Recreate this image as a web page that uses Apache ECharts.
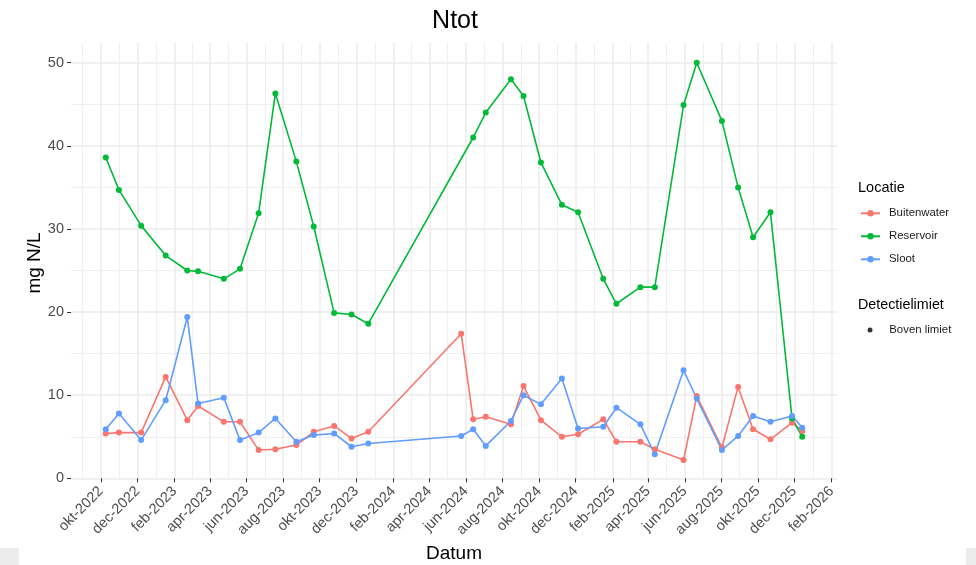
<!DOCTYPE html>
<html><head><meta charset="utf-8">
<script src="https://cdn.jsdelivr.net/npm/echarts@6/dist/echarts.min.js"></script>
<style>html,body{margin:0;padding:0;background:#fff}#c{width:976px;height:565px}</style>
</head><body><div id="c"></div>
<script>
// ---- data ----
const datesReservoir = ['2022-10-09','2022-10-31','2022-12-07','2023-01-17','2023-02-22','2023-03-12','2023-04-24','2023-05-21','2023-06-21','2023-07-19','2023-08-23','2023-09-21','2023-10-25','2023-11-23','2023-12-21','2024-06-13','2024-07-04','2024-08-15','2024-09-05','2024-10-04','2024-11-08','2024-12-05','2025-01-16','2025-02-07','2025-03-19','2025-04-12','2025-05-30','2025-06-21','2025-08-02','2025-08-29','2025-09-23','2025-10-22','2025-11-27','2025-12-14'];
const datesOther = ['2022-10-09','2022-10-31','2022-12-07','2023-01-17','2023-02-22','2023-03-12','2023-04-24','2023-05-21','2023-06-21','2023-07-19','2023-08-23','2023-09-21','2023-10-25','2023-11-23','2023-12-21','2024-05-24','2024-06-13','2024-07-04','2024-08-15','2024-09-05','2024-10-04','2024-11-08','2024-12-05','2025-01-16','2025-02-07','2025-03-19','2025-04-12','2025-05-30','2025-06-21','2025-08-02','2025-08-29','2025-09-23','2025-10-22','2025-11-27','2025-12-14'];
const reservoir = [38.6,34.7,30.4,26.8,25.0,24.9,24.0,25.2,31.9,46.3,38.1,30.3,19.9,19.7,18.6,41.0,44.0,48.0,46.0,38.0,32.9,32.0,24.0,21.0,23.0,23.0,44.9,50.0,43.0,35.0,29.0,32.0,7.2,5.0];
const buitenwater = [5.4,5.5,5.5,12.2,7.0,8.7,6.8,6.8,3.4,3.5,4.0,5.6,6.3,4.8,5.6,17.4,7.1,7.4,6.5,11.1,7.0,5.0,5.3,7.1,4.4,4.4,3.5,2.2,9.9,3.7,11.0,5.9,4.7,6.7,5.7];
const sloot = [5.9,7.8,4.6,9.4,19.4,9.0,9.7,4.6,5.5,7.2,4.4,5.2,5.4,3.8,4.2,5.1,5.9,3.9,6.9,10.0,8.9,12.0,6.0,6.2,8.5,6.5,2.9,13.0,9.6,3.4,5.1,7.5,6.8,7.5,6.1];
const tickDates = ['2022-10-01','2022-12-01','2023-02-01','2023-04-01','2023-06-01','2023-08-01','2023-10-01','2023-12-01','2024-02-01','2024-04-01','2024-06-01','2024-08-01','2024-10-01','2024-12-01','2025-02-01','2025-04-01','2025-06-01','2025-08-01','2025-10-01','2025-12-01','2026-02-01'];
const tickLabels = ['okt-2022','dec-2022','feb-2023','apr-2023','jun-2023','aug-2023','okt-2023','dec-2023','feb-2024','apr-2024','jun-2024','aug-2024','okt-2024','dec-2024','feb-2025','apr-2025','jun-2025','aug-2025','okt-2025','dec-2025','feb-2026'];
const outerBreaks = ['2022-08-01','2026-04-01'];
const yTicks = [0,10,20,30,40,50];
const yMinorTicks = [5,15,25,35,45];
const xRange = ['2022-08-12','2026-02-10'];
const yRange = [-0.2, 52.4];

// ---- build ----
function ts(d){ return new Date(d + 'T00:00:00Z').getTime(); }
const majorTs = tickDates.map(ts);
const labelMap = {};
majorTs.forEach((t,i)=>{ labelMap[t] = tickLabels[i]; });
const allBreaks = [ts(outerBreaks[0])].concat(majorTs, [ts(outerBreaks[1])]);
const minorTs = [];
for (let i=0;i<allBreaks.length-1;i++) minorTs.push((allBreaks[i]+allBreaks[i+1])/2);
const pairs = (ds, vs) => ds.map((d,i)=>[ts(d), vs[i]]);

const FONT = '"Liberation Sans", Arial, sans-serif';
const C_RED = '#F8766D', C_GREEN = '#00BA38', C_BLUE = '#619CFF';
const gridMajor = {color:'#EBEBEB', width:1.5};
const gridMinor = {color:'#F0F0F0', width:1};

function lineSeries(name, color, data){
  return {name, type:'line', data, xAxisIndex:0, yAxisIndex:0,
    symbol:'circle', symbolSize:6, showSymbol:true,
    lineStyle:{color, width:1.6}, itemStyle:{color},
    emphasis:{disabled:true}, animation:false};
}

const chart = echarts.init(document.getElementById('c'), null, {renderer:'canvas'});
chart.setOption({
  backgroundColor:'#ffffff',
  animation:false,
  grid:{left:71, right:139, top:42.75, bottom:85, containLabel:false},
  xAxis:[{
    type:'value', min:ts(xRange[0]), max:ts(xRange[1]),
    axisLine:{show:false},
    axisTick:{show:true, length:4, lineStyle:{color:'#333333', width:1}, customValues:majorTs},
    axisLabel:{show:true, customValues:majorTs, rotate:45, margin:9, fontSize:14.5, color:'#4D4D4D', fontFamily:FONT,
      formatter:(v)=>labelMap[v] || ''},
    splitLine:{show:true, lineStyle:gridMajor}
  },{
    type:'value', min:ts(xRange[0]), max:ts(xRange[1]), gridIndex:0, position:'bottom',
    axisLine:{show:false}, axisLabel:{show:false},
    axisTick:{show:false, customValues:minorTs},
    splitLine:{show:true, lineStyle:gridMinor}
  }],
  yAxis:[{
    type:'value', min:yRange[0], max:yRange[1],
    axisLine:{show:false},
    axisTick:{show:true, length:4, lineStyle:{color:'#333333', width:1}, customValues:yTicks},
    axisLabel:{show:true, customValues:yTicks, margin:7, fontSize:14.5, color:'#4D4D4D', fontFamily:FONT},
    splitLine:{show:true, lineStyle:gridMajor}
  },{
    type:'value', min:yRange[0], max:yRange[1], gridIndex:0, position:'left',
    axisLine:{show:false}, axisLabel:{show:false},
    axisTick:{show:false, customValues:yMinorTicks},
    splitLine:{show:true, lineStyle:gridMinor}
  }],
  legend:[{
    data:['Buitenwater','Reservoir','Sloot'],
    orient:'vertical', left:855, top:202.8,
    itemWidth:19, itemHeight:8, itemGap:12,
    selectedMode:false,
    textStyle:{fontSize:11.4, color:'#1A1A1A', fontFamily:FONT, padding:[0,0,0,4]}
  },{
    data:[{name:'Boven limiet', icon:'circle'}],
    orient:'vertical', left:862.5, top:319.5,
    itemWidth:12.5, itemHeight:5, selectedMode:false,
    textStyle:{fontSize:11.4, color:'#1A1A1A', fontFamily:FONT, padding:[0,0,0,8]}
  }],
  series:[
    lineSeries('Buitenwater', C_RED, pairs(datesOther, buitenwater)),
    lineSeries('Reservoir', C_GREEN, pairs(datesReservoir, reservoir)),
    lineSeries('Sloot', C_BLUE, pairs(datesOther, sloot)),
    {name:'Boven limiet', type:'scatter', data:[], itemStyle:{color:'#000000'}, symbolSize:5}
  ],
  graphic:[
    {type:'text', x:455, y:21, style:{text:'Ntot', fontSize:25, fontFamily:FONT, fill:'#000', textAlign:'center', textVerticalAlign:'middle'}},
    {type:'text', x:454, y:554, style:{text:'Datum', fontSize:19, fontFamily:FONT, fill:'#000', textAlign:'center', textVerticalAlign:'middle'}},
    {type:'text', x:35, y:263, rotation:Math.PI/2, style:{text:'mg N/L', fontSize:19, fontFamily:FONT, fill:'#000', textAlign:'center', textVerticalAlign:'middle'}},
    {type:'text', x:858, y:188, style:{text:'Locatie', fontSize:14.5, fontFamily:FONT, fill:'#000', textAlign:'left', textVerticalAlign:'middle'}},
    {type:'text', x:858, y:305, style:{text:'Detectielimiet', fontSize:14.3, fontFamily:FONT, fill:'#000', textAlign:'left', textVerticalAlign:'middle'}},
    {type:'rect', shape:{x:0, y:548, width:19, height:17}, style:{fill:'#ECECEC'}},
    {type:'rect', shape:{x:966, y:548, width:10, height:17}, style:{fill:'#ECECEC'}}
  ]
});
</script></body></html>
